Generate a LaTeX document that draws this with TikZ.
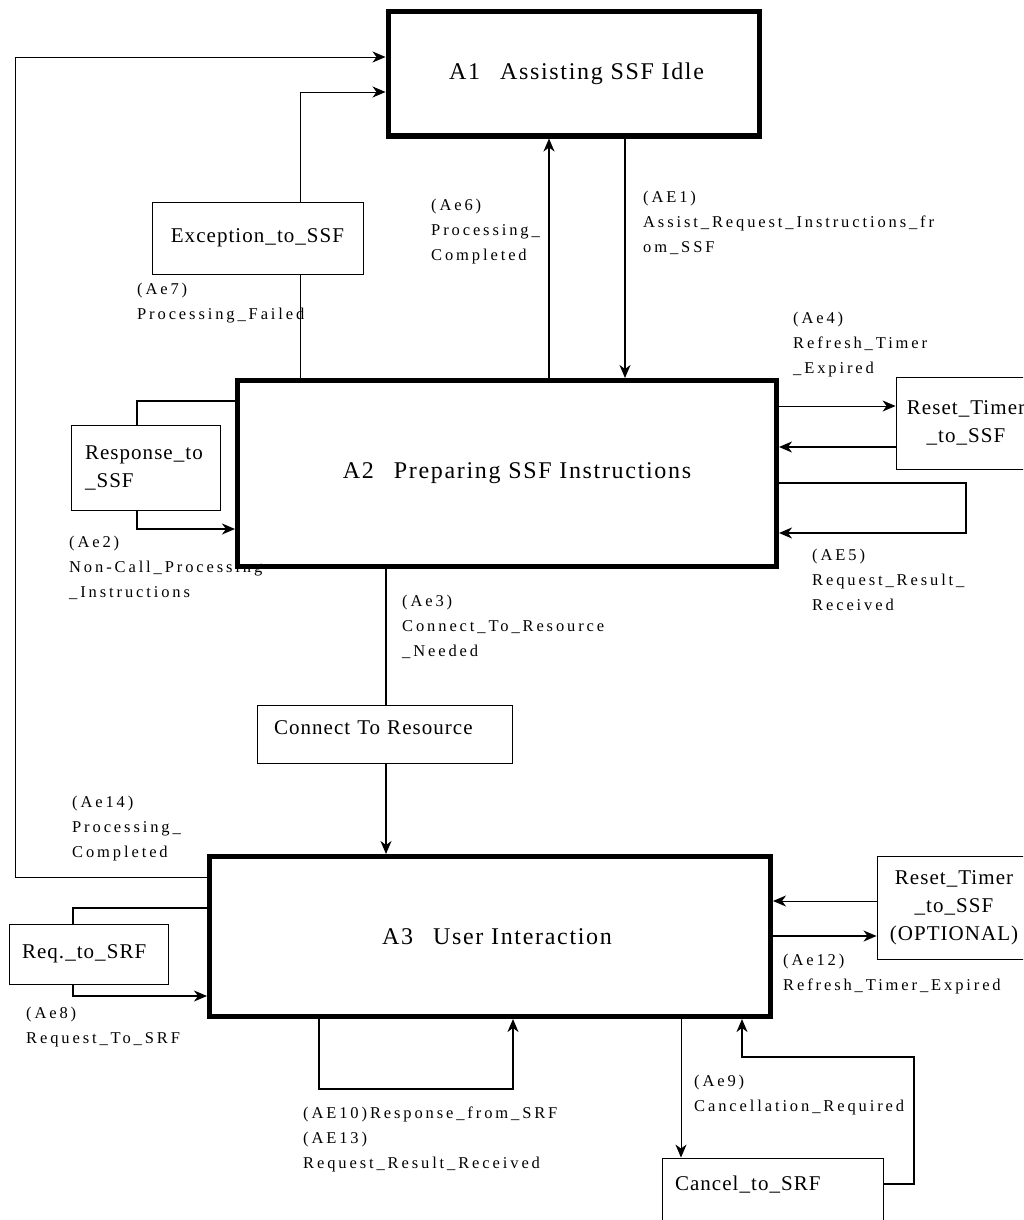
\documentclass[tikz,border=0pt]{standalone}
\usepackage{fontspec}
\setmainfont{Liberation Serif}
\newfontfamily\lblfont[LetterSpace=17.5]{Liberation Serif}
\newfontfamily\boxfont[LetterSpace=5]{Liberation Serif}
\newfontfamily\actfont[LetterSpace=7]{Liberation Serif}
\usetikzlibrary{arrows.meta}

\begin{document}
\begin{tikzpicture}[x=1pt, y=-1pt,
    >={Stealth[length=13pt,width=11pt,inset=4pt]},
    actbox/.style={draw, line width=5pt, inner sep=0pt, font=\actfont\fontsize{24}{29}\selectfont},
    smallbox/.style={draw, line width=0.9pt, inner sep=0pt, align=center, font=\boxfont\fontsize{21}{28}\selectfont},
    lbl/.style={anchor=base west, align=left, inner sep=0pt, font=\lblfont\fontsize{16.5}{25}\selectfont},
    conn/.style={line width=1.6pt},
    thinconn/.style={line width=0.9pt}]
    \clip (0,0) rectangle (1023,1220);

    % event labels (placed by the baseline of their last line)
    \node[lbl] (l6) at (431,260) {(Ae6)\\Processing\_\\Completed};
    \node[lbl] (l1) at (643,252) {(AE1)\\Assist\_Request\_Instructions\_fr\\om\_SSF};
    \node[lbl] (l7) at (137,319) {(Ae7)\\Processing\_Failed};
    \node[lbl] (l4) at (793,373) {(Ae4)\\Refresh\_Timer\\\_Expired};
    \node[lbl] (l2) at (69,597) {(Ae2)\\Non-Call\_Processing\\\_Instructions};
    \node[lbl] (l5) at (812,610) {(AE5)\\Request\_Result\_\\Received};
    \node[lbl] (l3) at (402,656) {(Ae3)\\Connect\_To\_Resource\\\_Needed};
    \node[lbl] (l14) at (72,857) {(Ae14)\\Processing\_\\Completed};
    \node[lbl] (l8) at (26,1043) {(Ae8)\\Request\_To\_SRF};
    \node[lbl] (l12) at (783,990) {(Ae12)\\Refresh\_Timer\_Expired};
    \node[lbl] (l10) at (303,1168) {(AE10)Response\_from\_SRF\\(AE13)\\Request\_Result\_Received};
    \node[lbl] (l9) at (694,1111) {(Ae9)\\Cancellation\_Required};

    % activity boxes
    \node[actbox, minimum width=371pt, minimum height=124pt] (a1) at (573.5,74) {\hspace*{6pt}A1\hspace{20pt}Assisting SSF Idle};
    \node[actbox, minimum width=539pt, minimum height=186pt] (a2) at (507,473.5) {\hspace*{20pt}A2\hspace{20pt}Preparing SSF Instructions};
    \node[actbox, minimum width=561pt, minimum height=160pt] (a3) at (490,936.5) {\hspace*{14pt}A3\hspace{20pt}User Interaction};

    % message boxes
    \node[smallbox, minimum width=211pt, minimum height=72pt] (exc) at (257.5,238) {Exception\_to\_SSF};
    \node[smallbox, minimum width=149pt, minimum height=85pt, text width=121pt, inner xsep=14pt, align=left] (resp) at (145.5,467.5) {Response\_to\\\_SSF};
    \node[smallbox, minimum width=140pt, minimum height=92pt] (rst1) at (966,423) {Reset\_Timer\\\_to\_SSF};
    \node[smallbox, minimum width=255pt, minimum height=58pt, text width=221pt, inner xsep=17pt, align=left, text depth=13pt] (conres) at (384.5,734) {Connect To Resource};
    \node[smallbox, minimum width=159pt, minimum height=60pt, text width=133pt, inner xsep=13pt, align=left] (req) at (88.5,954) {Req.\_to\_SRF};
    \node[smallbox, minimum width=154pt, minimum height=103pt] (rst2) at (954,907.5) {Reset\_Timer\\\_to\_SSF\\(OPTIONAL)};
    \node[smallbox, minimum width=221pt, minimum height=92pt, text width=195pt, inner xsep=13pt, align=left, text depth=42pt] (cancel) at (772.5,1204) {Cancel\_to\_SRF};

    % A1 <-> A2
    \draw[thinconn,->] ([yshift=59.5pt]a3.west) -| (15,57) -- (a1.west |- 15,57);
    \draw[thinconn,->] (exc.north -| 300,0) |- (a1.west |- 0,92);
    \draw[thinconn] (a2.north -| 300,0) -- (exc.south -| 300,0);
    \draw[conn,->] (a2.north -| 549,0) -- (a1.south -| 549,0);
    \draw[conn,->] (a1.south -| 625,0) -- (a2.north -| 625,0);

    % loops round A2
    \draw[conn] (a2.west |- 0,401) -| (resp.north -| 137,0);
    \draw[conn,->] (resp.south -| 137,0) |- (a2.west |- 0,529);
    \draw[thinconn,->] (a2.east |- 0,406) -- (rst1.west |- 0,406);
    \draw[conn,->] (rst1.west |- 0,447) -- (a2.east |- 0,447);
    \draw[conn,->] (a2.east |- 0,483) -| (966,533) -- (a2.east |- 0,533);

    % A2 -> A3
    \draw[conn] (a2.south -| 386,0) -- (conres.north -| 386,0);
    \draw[conn,->] (conres.south -| 386,0) -- (a3.north -| 386,0);

    % loops round A3
    \draw[conn] (a3.west |- 0,908) -| (req.north -| 73,0);
    \draw[conn,->] (req.south -| 73,0) |- (a3.west |- 0,996);
    \draw[thinconn,->] (rst2.west |- 0,901) -- (a3.east |- 0,901);
    \draw[conn,->] (a3.east |- 0,936) -- (rst2.west |- 0,936);
    \draw[conn,->] (a3.south -| 319,0) |- (513,1089) -- (a3.south -| 513,0);
    \draw[thinconn,->] (a3.south -| 681,0) -- (cancel.north -| 681,0);
    \draw[conn,->] (cancel.east |- 0,1184) -| (914,1057) -| (a3.south -| 742,0);
\end{tikzpicture}
\end{document}
